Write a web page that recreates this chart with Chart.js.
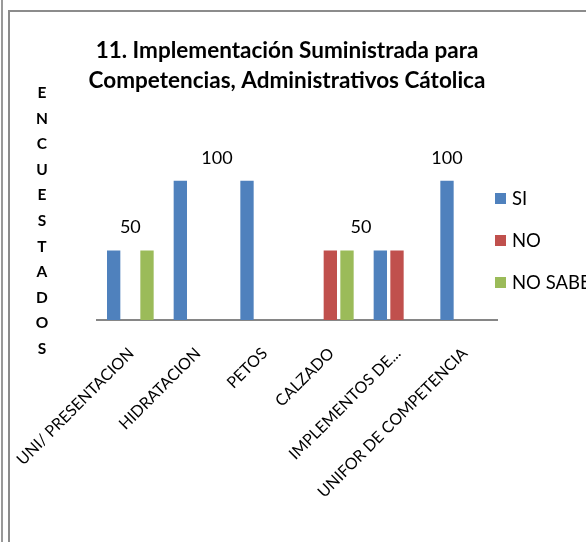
<!DOCTYPE html>
<html>
<head>
<meta charset="utf-8">
<script src="https://cdn.jsdelivr.net/npm/chart.js@4/dist/chart.umd.min.js"></script>
<style>
    html, body { margin: 0; padding: 0; background: #fff; }
    #page { position: relative; width: 586px; height: 542px; overflow: hidden; }
    .rule { position: absolute; left: 1px; top: 0; width: 2px; height: 542px; background: #999; }
    .frame { position: absolute; left: 8px; top: 10px; width: 700px; height: 700px;
             border-left: 2px solid #8c8c8c; border-top: 2px solid #8c8c8c; }
    #chart { position: absolute; left: 0; top: 0; }
</style>
</head>
<body>
<div id="page">
    <div class="rule"></div>
    <div class="frame"></div>
    <canvas id="chart" width="586" height="542"></canvas>
</div>
<script>
// categories and series
const categories = ['UNI/ PRESENTACION', 'HIDRATACION', 'PETOS', 'CALZADO', 'IMPLEMENTOS DE...', 'UNIFOR DE COMPETENCIA'];
const seriesNames = ['SI', 'NO', 'NO SABE'];
const siValues = [50, 100, 100, 0, 50, 100];
const noValues = [0, 0, 0, 50, 50, 0];
const noSabeValues = [50, 0, 0, 50, 0, 0];
const seriesColors = ['#4f81bd', '#c0504d', '#9bbb59'];

// floating data labels (value, category slot where Excel left them)
const labelValues = [50, 100, 50, 100];
const labelSlots = [0, 1.3, 3.46, 4.75];

const titleLines = ['11. Implementación Suministrada para', 'Competencias, Administrativos Cátolica'];
const yTitle = 'ENCUESTADOS';

const FONT = 'Lato, "Open Sans", sans-serif';

const decorations = {
    id: 'decorations',
    afterDraw: (chart) => {
        const ctx = chart.ctx;
        const xs = chart.scales.x;
        const ys = chart.scales.y;
        ctx.save();
        ctx.fillStyle = '#000';

        // title
        ctx.font = 'bold 22.5px ' + FONT;
        ctx.textAlign = 'center';
        ctx.textBaseline = 'alphabetic';
        titleLines.forEach((line, i) => ctx.fillText(line, 287, 58 + i * 30));

        // vertical axis title, one letter per line
        ctx.font = 'bold 15.5px ' + FONT;
        ctx.textBaseline = 'middle';
        yTitle.split('').forEach((ch, i) => ctx.fillText(ch, 42, 93 + i * 25.6));

        // data labels
        ctx.font = '18px ' + FONT;
        labelValues.forEach((v, i) => {
            ctx.fillText(String(v), xs.getPixelForValue(labelSlots[i]), ys.getPixelForValue(v) - 23);
        });

        // legend
        ctx.textAlign = 'left';
        ctx.font = '18.5px ' + FONT;
        chart.data.datasets.forEach((ds, i) => {
            const y = 193 + i * 42;
            ctx.fillStyle = ds.backgroundColor;
            ctx.fillRect(495, y, 11, 11);
            ctx.fillStyle = '#000';
            ctx.fillText(ds.label, 512, y + 6);
        });
        ctx.restore();
    }
};

const datasets = [siValues, noValues, noSabeValues].map((vals, i) => ({
    label: seriesNames[i],
    data: vals,
    backgroundColor: seriesColors[i],
    borderWidth: 0,
    categoryPercentage: 0.75,
    barPercentage: 0.8
}));

new Chart(document.getElementById('chart'), {
    type: 'bar',
    data: { labels: categories, datasets: datasets },
    options: {
        responsive: false,
        animation: false,
        layout: { padding: { left: 97, right: 89, top: 153, bottom: 0 } },
        plugins: {
            legend: { display: false },
            title: { display: false },
            tooltip: { enabled: false }
        },
        scales: {
            x: {
                grid: { display: false },
                border: { display: true, color: '#868686', width: 2 },
                ticks: {
                    autoSkip: false,
                    minRotation: 45,
                    maxRotation: 45,
                    padding: 16,
                    labelOffset: 1,
                    color: '#000',
                    font: { family: FONT, size: 16 }
                },
                afterFit: (scale) => {
                    scale.height = 222;
                    scale.paddingLeft = 0;
                    scale.paddingRight = 0;
                }
            },
            y: {
                display: false,
                min: 0,
                max: 120
            }
        }
    },
    plugins: [decorations]
});
</script>
</body>
</html>
